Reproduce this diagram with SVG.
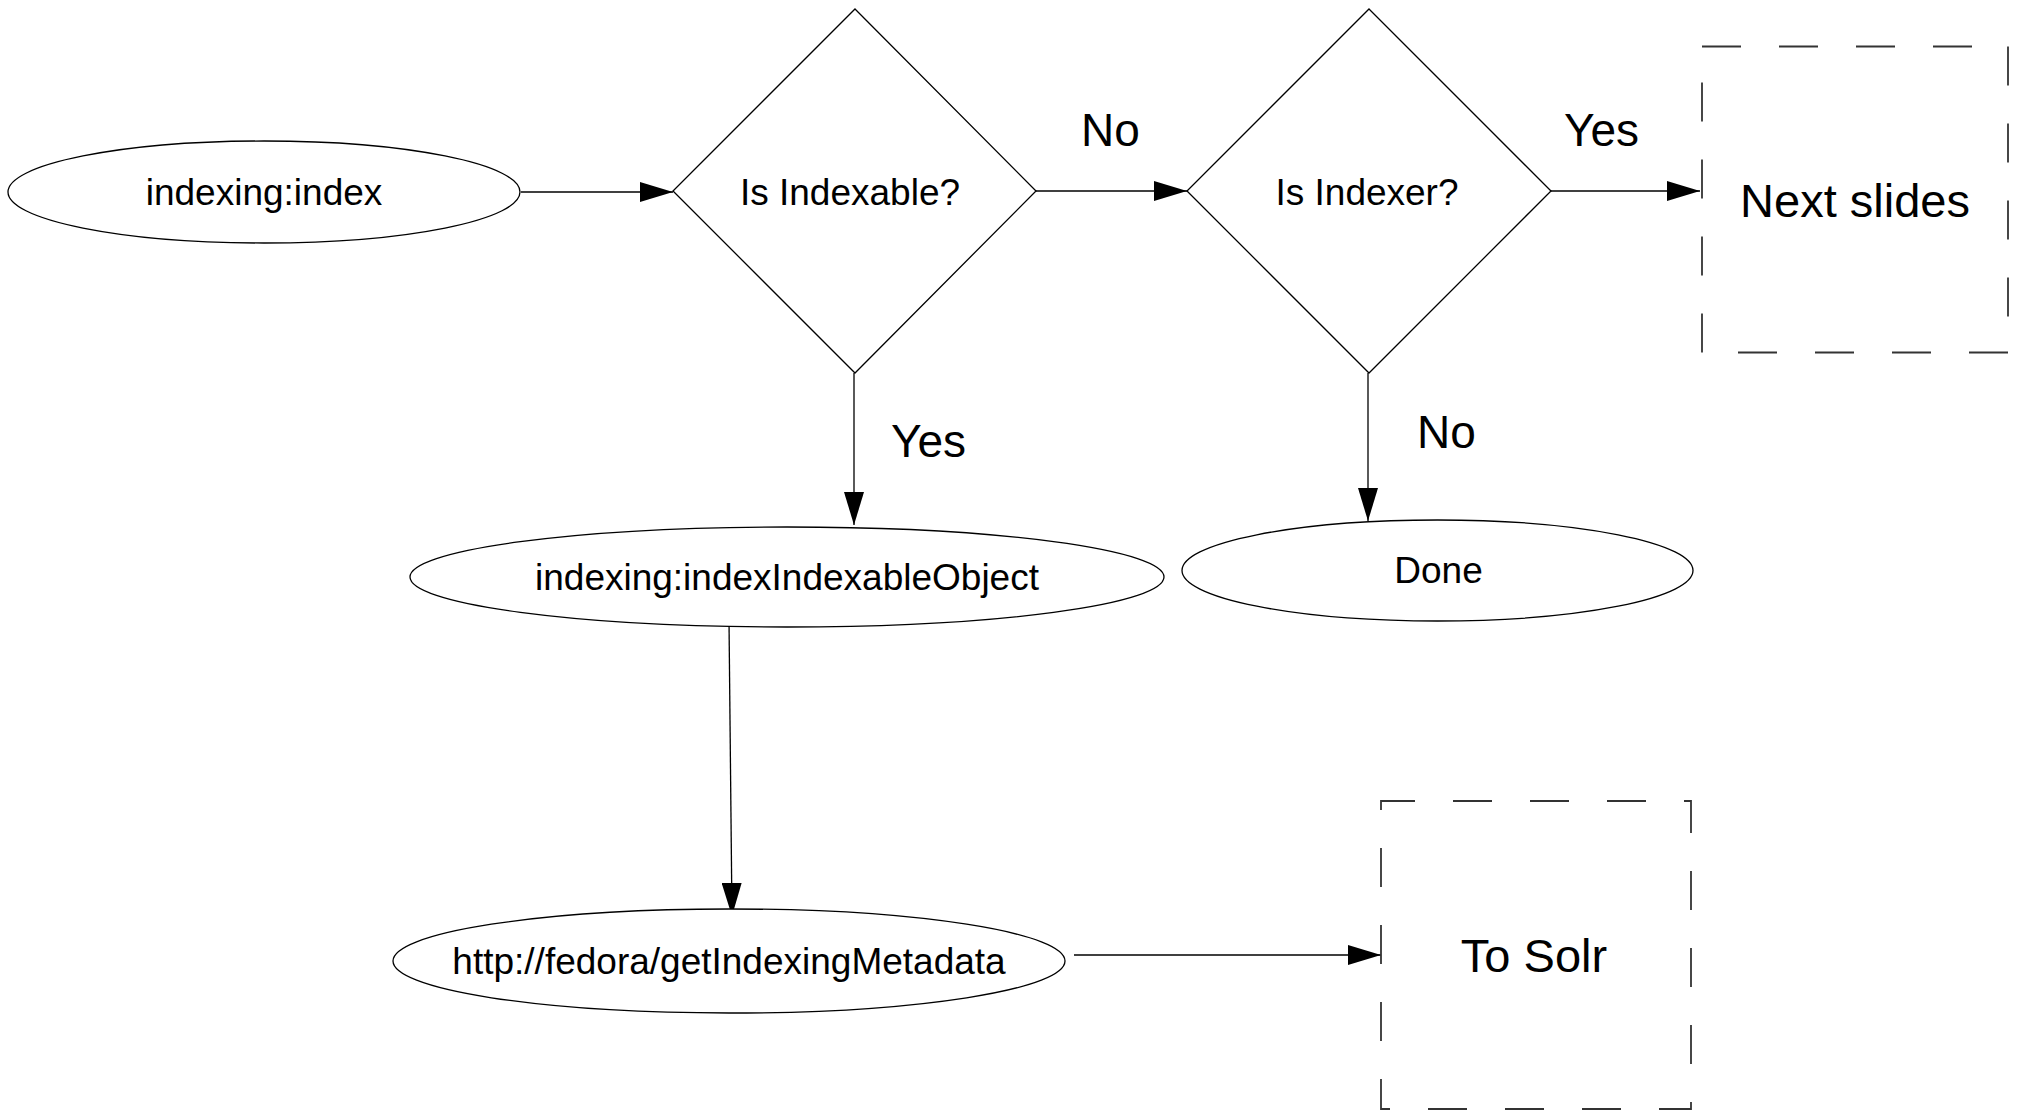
<svg xmlns="http://www.w3.org/2000/svg" width="2017" height="1110" viewBox="0 0 2017 1110">
<style>
  .shape { fill: #ffffff; stroke: #000000; stroke-width: 1.3; }
  .dash { fill: none; stroke: #333333; stroke-width: 1.8; stroke-dasharray: 39 38; }
  .conn { fill: none; stroke: #000000; stroke-width: 1.3; }
  .t { font-family: "Liberation Sans", Arial, sans-serif; font-size: 37px; fill: #000000; text-anchor: middle; }
  .lbl { font-family: "Liberation Sans", Arial, sans-serif; font-size: 46px; fill: #000000; }
  .big { font-family: "Liberation Sans", Arial, sans-serif; font-size: 47px; fill: #000000; text-anchor: middle; }
</style>
<defs>
  <marker id="arrow" markerUnits="userSpaceOnUse" viewBox="0 0 33 20" refX="33" refY="10" markerWidth="33" markerHeight="20" orient="auto">
    <path d="M0,0 L33,10 L0,20 z" fill="#000000"/>
  </marker>
</defs>
<rect x="0" y="0" width="2017" height="1110" fill="#ffffff"/>

<g id="connectors">
  <line class="conn" x1="521" y1="192" x2="673" y2="192" marker-end="url(#arrow)"/>
  <line class="conn" x1="1036" y1="191" x2="1187" y2="191" marker-end="url(#arrow)"/>
  <line class="conn" x1="1551" y1="191" x2="1700" y2="191" marker-end="url(#arrow)"/>
  <line class="conn" x1="854" y1="373" x2="854" y2="525" marker-end="url(#arrow)"/>
  <line class="conn" x1="1368" y1="373" x2="1368" y2="521" marker-end="url(#arrow)"/>
  <line class="conn" x1="729" y1="621" x2="732" y2="916" marker-end="url(#arrow)"/>
  <line class="conn" x1="1074" y1="955" x2="1381" y2="955" marker-end="url(#arrow)"/>
  <text class="lbl" x="1081" y="146">No</text>
  <text class="lbl" x="1564" y="146">Yes</text>
  <text class="lbl" x="891" y="457">Yes</text>
  <text class="lbl" x="1417" y="448">No</text>
</g>

<g id="node-index">
  <ellipse class="shape" cx="264" cy="192" rx="256" ry="51"/>
  <text class="t" x="264" y="205">indexing:index</text>
</g>

<g id="node-is-indexable">
  <polygon class="shape" points="855,9 1036,191 855,373 673,191"/>
  <text class="t" x="850" y="205">Is Indexable?</text>
</g>

<g id="node-is-indexer">
  <polygon class="shape" points="1369,9 1551,191 1369,373 1187,191"/>
  <text class="t" x="1367" y="205">Is Indexer?</text>
</g>

<g id="node-next-slides">
  <line class="dash" x1="1702" y1="46.5" x2="2008" y2="46.5"/>
  <line class="dash" x1="2008" y1="46.5" x2="2008" y2="352.5"/>
  <line class="dash" x1="2008" y1="352.5" x2="1702" y2="352.5"/>
  <line class="dash" x1="1702" y1="352.5" x2="1702" y2="46.5"/>
  <text class="big" x="1855" y="217">Next slides</text>
</g>

<g id="node-index-indexable-object">
  <ellipse class="shape" cx="787" cy="577" rx="377" ry="50"/>
  <text class="t" x="787" y="590">indexing:indexIndexableObject</text>
</g>

<g id="node-done">
  <ellipse class="shape" cx="1437.5" cy="570.5" rx="255.5" ry="50.5"/>
  <text class="t" x="1438.5" y="583">Done</text>
</g>

<g id="node-get-indexing-metadata">
  <ellipse class="shape" cx="729" cy="961" rx="336" ry="52"/>
  <text class="t" x="729" y="974">http://fedora/getIndexingMetadata</text>
</g>

<g id="node-to-solr">
  <rect class="dash" x="1381" y="801" width="310" height="308" stroke-dashoffset="5"/>
  <text class="big" x="1534" y="972">To Solr</text>
</g>
</svg>
